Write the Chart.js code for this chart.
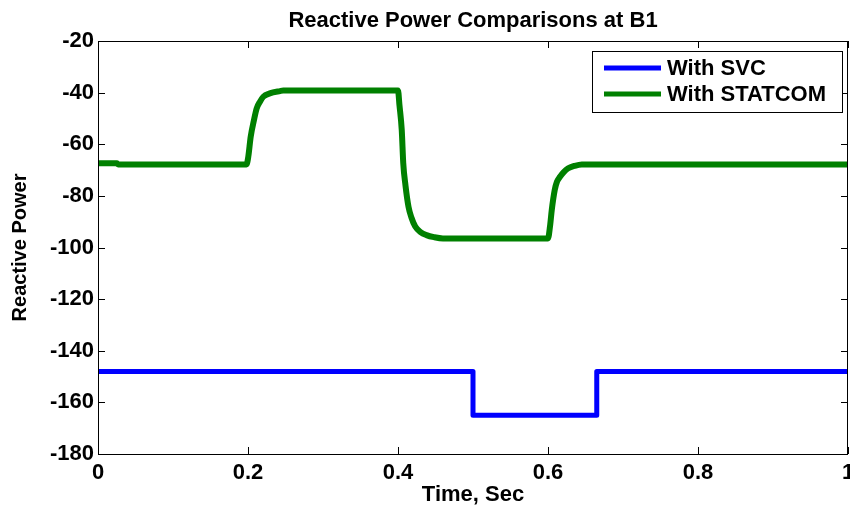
<!DOCTYPE html>
<html>
<head>
<meta charset="utf-8">
<script src="https://cdn.jsdelivr.net/npm/chart.js@4.4.1/dist/chart.umd.min.js"></script>
<style>
  html, body { margin: 0; padding: 0; background: #ffffff; }
  #wrap { width: 850px; height: 507px; }
</style>
</head>
<body>
<div id="wrap"><canvas id="c" width="850" height="507"></canvas></div>
<script>
// ---- data ----
const chartTitle = 'Reactive Power Comparisons at B1';
const xAxisTitle = 'Time, Sec';
const yAxisTitle = 'Reactive Power';
const seriesLabels = ['With SVC', 'With STATCOM'];

const xTickValues = [0, 0.2, 0.4, 0.6, 0.8, 1];
const xTickLabels = ['0', '0.2', '0.4', '0.6', '0.8', '1'];
const yTickValues = [-180, -160, -140, -120, -100, -80, -60, -40, -20];
const yTickLabels = ['-180', '-160', '-140', '-120', '-100', '-80', '-60', '-40', '-20'];

const svcTime   = [0, 0.5, 0.5, 0.665, 0.665, 1];
const svcValues = [-148, -148, -165, -165, -148, -148];

const statcomTime = [0, 0.025, 0.027, 0.198, 0.2004, 0.2036, 0.208, 0.2116, 0.216, 0.2204, 0.229, 0.2427, 0.247,
  0.4, 0.402, 0.405, 0.407, 0.41, 0.414, 0.418, 0.423, 0.43, 0.438, 0.448, 0.46,
  0.6, 0.603, 0.605, 0.609, 0.612, 0.616, 0.621, 0.627, 0.635, 0.645, 1];
const statcomValues = [-67.4, -67.4, -67.8, -67.8, -64.8, -57.1, -50.6, -46.1, -43.5, -41.6, -40.3, -39.4, -39.2,
  -39.2, -45, -54.5, -67.3, -76, -84.2, -88.5, -91.9, -94, -95.2, -96, -96.5,
  -96.5, -91, -85.5, -77.7, -74.5, -72.6, -70.8, -69.3, -68.4, -67.8, -67.8];

const seriesColors = ['#0000ff', '#008000'];
// ---------------------------------------------

const FONT = "'Liberation Sans', Arial, Helvetica, sans-serif";

function toPoints(xs, ys) { return xs.map((x, i) => ({ x: x, y: ys[i] })); }

const framePlugin = {
  id: 'frameTicks',
  afterDatasetsDraw(chart) {
    const ctx = chart.ctx;
    const a = chart.chartArea;
    const xs = chart.scales.x, ys = chart.scales.y;
    const len = 7;
    ctx.save();
    ctx.strokeStyle = '#000';
    ctx.lineWidth = 1;
    ctx.beginPath();
    ctx.rect(Math.round(a.left) + 0.5, Math.round(a.top) + 0.5,
             Math.round(a.right - a.left) - 1, Math.round(a.bottom - a.top));
    ctx.stroke();
    ctx.beginPath();
    xTickValues.forEach(v => {
      const px = Math.round(xs.getPixelForValue(v)) + 0.5;
      ctx.moveTo(px, a.bottom); ctx.lineTo(px, a.bottom - len);
      ctx.moveTo(px, a.top); ctx.lineTo(px, a.top + len);
    });
    yTickValues.forEach(v => {
      const py = Math.round(ys.getPixelForValue(v)) + 0.5;
      ctx.moveTo(a.left, py); ctx.lineTo(a.left + len, py);
      ctx.moveTo(a.right, py); ctx.lineTo(a.right - len, py);
    });
    ctx.stroke();

    // legend box (inside plot, top-right)
    const bx = 592, by = 51, bw = 250, bh = 61;
    ctx.fillStyle = '#fff';
    ctx.fillRect(bx, by, bw, bh);
    ctx.strokeStyle = '#000';
    ctx.lineWidth = 1;
    ctx.strokeRect(bx + 0.5, by + 0.5, bw, bh);
    ctx.font = 'bold 22px ' + FONT;
    ctx.textBaseline = 'middle';
    ctx.textAlign = 'left';
    chart.data.datasets.forEach((ds, i) => {
      const ly = by + 17 + i * 26;
      ctx.strokeStyle = ds.borderColor;
      ctx.lineWidth = 5;
      ctx.lineCap = 'butt';
      ctx.beginPath();
      ctx.moveTo(604, ly); ctx.lineTo(661, ly);
      ctx.stroke();
      ctx.fillStyle = '#000';
      ctx.fillText(ds.label, 667, ly + 1);
    });
    ctx.restore();
  }
};

new Chart(document.getElementById('c'), {
  type: 'line',
  data: {
    datasets: [
      {
        label: seriesLabels[0],
        data: toPoints(svcTime, svcValues),
        borderColor: seriesColors[0],
        backgroundColor: seriesColors[0],
        borderWidth: 5,
        tension: 0,
        borderJoinStyle: 'round',
        pointRadius: 0,
        fill: false
      },
      {
        label: seriesLabels[1],
        data: toPoints(statcomTime, statcomValues),
        borderColor: seriesColors[1],
        backgroundColor: seriesColors[1],
        borderWidth: 6,
        cubicInterpolationMode: 'monotone',
        borderJoinStyle: 'round',
        pointRadius: 0,
        fill: false
      }
    ]
  },
  options: {
    responsive: false,
    animation: false,
    devicePixelRatio: 1,
    layout: { autoPadding: false, padding: { left: 0, right: 2, top: 0, bottom: 0 } },
    plugins: {
      legend: { display: false },
      tooltip: { enabled: false },
      title: {
        display: true,
        text: chartTitle,
        fullSize: false,
        color: '#000',
        font: { family: FONT, size: 22, weight: 'bold', lineHeight: 1.2 },
        padding: { top: 8, bottom: 6.6 }
      }
    },
    scales: {
      x: {
        type: 'linear',
        min: 0, max: 1,
        afterBuildTicks(scale) { scale.ticks = xTickValues.map(v => ({ value: v })); },
        afterFit(scale) { scale.height = 53; scale.paddingLeft = 0; scale.paddingRight = 0; },
        grid: { display: false, drawTicks: false },
        border: { display: false },
        ticks: {
          color: '#000',
          padding: 6,
          maxRotation: 0,
          autoSkip: false,
          font: { family: FONT, size: 22, weight: 'bold' },
          callback: (v, i) => xTickLabels[xTickValues.indexOf(v)]
        },
        title: {
          display: true,
          text: xAxisTitle,
          color: '#000',
          font: { family: FONT, size: 22, weight: 'bold', lineHeight: 1 },
          padding: { top: 0, bottom: 1 }
        }
      },
      y: {
        type: 'linear',
        min: -180, max: -20,
        afterBuildTicks(scale) { scale.ticks = yTickValues.map(v => ({ value: v })); },
        afterFit(scale) { scale.width = 98; scale.paddingTop = 0; scale.paddingBottom = 0; },
        grid: { display: false, drawTicks: false },
        border: { display: false },
        ticks: {
          color: '#000',
          padding: 4,
          autoSkip: false,
          font: { family: FONT, size: 22, weight: 'bold' },
          callback: (v, i) => yTickLabels[yTickValues.indexOf(v)]
        },
        title: {
          display: true,
          text: yAxisTitle,
          color: '#000',
          font: { family: FONT, size: 20, weight: 'bold', lineHeight: 1.2 },
          padding: { top: 8, bottom: 0 }
        }
      }
    }
  },
  plugins: [framePlugin]
});
</script>
</body>
</html>
